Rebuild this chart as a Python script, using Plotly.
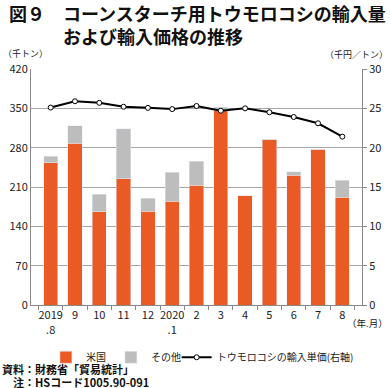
import plotly.graph_objects as go

months = ["2019<br>.8", "9", "10", "11", "12", "2020<br>.1", "2", "3", "4", "5", "6", "7", "8"]
usa = [253, 288, 166, 225, 167, 185, 213, 346, 194, 295, 231, 277, 192]
other = [12, 31, 31, 89, 23, 51, 43, 6, 0, 0, 6, 0, 30]
price = [25.1, 25.9, 25.7, 25.2, 25.06, 24.9, 25.3, 24.7, 25.0, 24.5, 23.9, 23.1, 21.4]

FONT = "Noto Sans CJK JP"
fig = go.Figure()
fig.add_trace(go.Bar(x=months, y=usa, name="米国", marker_color="#E95A25"))
fig.add_trace(go.Bar(x=months, y=other, name="その他", marker_color="#BDBDBD"))
fig.add_trace(go.Scatter(x=months, y=price, name="トウモロコシの輸入単価(右軸)", yaxis="y2",
                         mode="lines+markers", legend="legend2",
                         line=dict(color="black", width=2),
                         marker=dict(symbol="circle", size=5, color="white",
                                     line=dict(color="black", width=1))))

leg_common = dict(orientation="h", y=-0.16, yanchor="top", xanchor="left",
                  font=dict(size=10, color="#222"), itemwidth=30,
                  bgcolor="rgba(0,0,0,0)", borderwidth=0)

fig.update_layout(
    width=391, height=388,
    barmode="stack", bargap=0.41,
    margin=dict(l=31, r=29, t=69, b=83, autoexpand=False),
    paper_bgcolor="white", plot_bgcolor="white",
    font=dict(family=FONT, size=11, color="#222"),
    showlegend=True,
    legend=dict(x=0.045, traceorder="normal", **leg_common),
    legend2=dict(x=0.44, **leg_common),
    xaxis=dict(showline=True, linecolor="#888", linewidth=1,
               ticks="outside", tickson="boundaries", ticklen=4, tickcolor="#888",
               tickangle=0, automargin=False,
               tickfont=dict(size=11, color="#222")),
    yaxis=dict(range=[0, 420], tickvals=[0, 70, 140, 210, 280, 350, 420],
               showgrid=True, gridcolor="#A6A6A6", gridwidth=1,
               showline=True, linecolor="#888", linewidth=1, automargin=False,
               zeroline=False, tickfont=dict(size=11, color="#222")),
    yaxis2=dict(range=[0, 30], tickvals=[0, 5, 10, 15, 20, 25, 30],
                overlaying="y", side="right", showgrid=False,
                showline=True, linecolor="#888", linewidth=1, automargin=False,
                ticks="outside", ticklen=4, tickcolor="#888",
                zeroline=False, tickfont=dict(size=11, color="#222")),
)

fig.add_annotation(text="<b>図９　コーンスターチ用トウモロコシの輸入量<br>　　　および輸入価格の推移</b>",
                   xref="paper", yref="paper", x=-0.072, y=1.30, xanchor="left", yanchor="top",
                   showarrow=False, align="left", font=dict(size=18, color="#111", family=FONT))
fig.add_annotation(text="（千トン）", xref="paper", yref="paper", x=-0.09, y=1.03,
                   xanchor="left", yanchor="bottom", showarrow=False, font=dict(size=9))
fig.add_annotation(text="（千円／トン）", xref="paper", yref="paper", x=1.085, y=1.025,
                   xanchor="right", yanchor="bottom", showarrow=False, font=dict(size=9))
fig.add_annotation(text="（年.月）", xref="paper", yref="paper", x=1.085, y=-0.04,
                   xanchor="right", yanchor="top", showarrow=False, font=dict(size=9.5))
fig.add_annotation(text="<b>資料：財務省「貿易統計」</b>", xref="paper", yref="paper", x=-0.094, y=-0.228,
                   xanchor="left", yanchor="top", showarrow=False, font=dict(size=11, color="#111"))
fig.add_annotation(text="<b>　注：HSコード1005.90-091</b>", xref="paper", yref="paper", x=-0.094, y=-0.285,
                   xanchor="left", yanchor="top", showarrow=False, font=dict(size=11, color="#111"))

fig.write_html("out.html", config={"displayModeBar": False},
               post_script="document.body.style.margin='0px';")
